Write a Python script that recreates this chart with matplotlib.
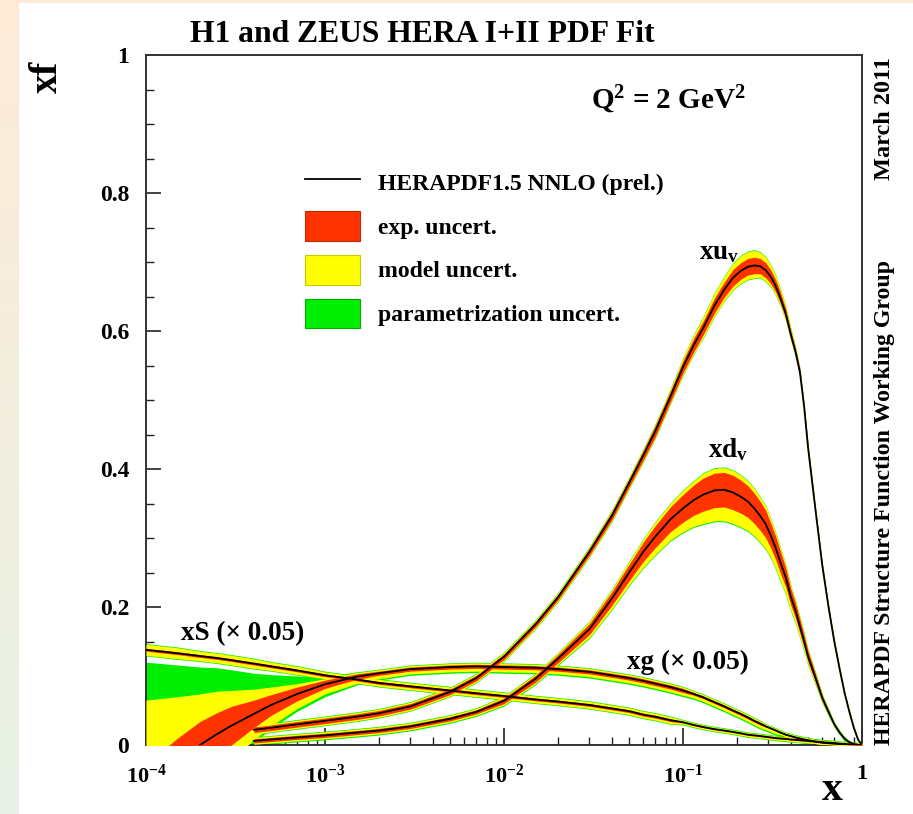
import numpy as np
import matplotlib
matplotlib.use("Agg")
import matplotlib.pyplot as plt
from matplotlib.lines import Line2D
from matplotlib.patches import Patch, Rectangle
from matplotlib.ticker import FixedLocator, FixedFormatter, LogLocator, NullFormatter

plt.rcParams['font.family'] = ['Liberation Serif', 'DejaVu Serif']
plt.rcParams['font.weight'] = 'bold'
plt.rcParams['mathtext.fontset'] = 'custom'
plt.rcParams['mathtext.rm'] = 'Liberation Serif:bold'
plt.rcParams['mathtext.bf'] = 'Liberation Serif:bold'
plt.rcParams['mathtext.it'] = 'Liberation Serif:italic:bold'
plt.rcParams['mathtext.default'] = 'rm'

# ---------------- data ----------------
x_grid = [1e-4, 1.5e-4, 2e-4, 2.5e-4, 3e-4, 4e-4, 5e-4, 7e-4, 1e-3, 1.5e-3, 2e-3, 3e-3,
          5e-3, 7e-3, 1e-2, 1.5e-2, 2e-2, 3e-2, 4e-2, 5e-2, 6e-2, 7e-2, 8.5e-2, 0.1,
          0.115, 0.13, 0.15, 0.17, 0.19, 0.21, 0.23, 0.25, 0.27, 0.29, 0.31, 0.33, 0.35,
          0.375, 0.4, 0.425, 0.45, 0.475, 0.5, 0.55, 0.6, 0.65, 0.7, 0.75, 0.8, 0.85,
          0.9, 0.95, 1.0]
nan = np.nan

# xu_v  (valence curves start at x = 4e-4)
xuv_c = [nan] * 5 + [
    0.022, 0.025, 0.030, 0.035, 0.041, 0.046, 0.056, 0.077, 0.097, 0.128, 0.175, 0.214,
    0.280, 0.332, 0.380, 0.420, 0.455, 0.505, 0.548, 0.580, 0.605, 0.637, 0.660, 0.677,
    0.687, 0.693, 0.695, 0.694, 0.688, 0.678, 0.665, 0.648, 0.625, 0.595, 0.570, 0.540,
    0.490, 0.430, 0.340, 0.260, 0.200, 0.150, 0.110, 0.075, 0.048, 0.025, 0.008, 0.0]
xuv_exp = [nan] * 5 + [0.004] * 12 + [
    0.005, 0.006, 0.006, 0.007, 0.008, 0.008, 0.009, 0.010, 0.010, 0.011, 0.011, 0.012,
    0.012, 0.012, 0.012, 0.011, 0.011, 0.010, 0.009, 0.008, 0.007, 0.006, 0.005, 0.005,
    0.004, 0.004, 0.003, 0.003, 0.002, 0.002, 0.002, 0.001, 0.001, 0.001, 0.0, 0.0]
xuv_mod_up = [nan] * 5 + [0.002] * 17 + [
    0.003, 0.004, 0.005, 0.006, 0.007, 0.008, 0.009, 0.010, 0.010, 0.010, 0.009, 0.008,
    0.007, 0.006, 0.005, 0.004, 0.003, 0.002] + [0.001] * 13
xuv_mod_dn = [nan] * 5 + [0.002] * 17 + [
    0.002, 0.003, 0.003, 0.004, 0.004, 0.005, 0.005, 0.006, 0.006, 0.006, 0.005, 0.005,
    0.004, 0.004, 0.003, 0.003, 0.002, 0.002] + [0.001] * 13
xuv_par_up = [nan] * 5 + [0.001] * 48
xuv_par_dn = [nan] * 5 + [0.001] * 48

# xd_v
xdv_c = [nan] * 5 + [
    0.006, 0.008, 0.011, 0.014, 0.018, 0.021, 0.027, 0.038, 0.048, 0.064, 0.096, 0.125,
    0.168, 0.212, 0.250, 0.280, 0.302, 0.327, 0.343, 0.355, 0.363, 0.369, 0.370, 0.366,
    0.360, 0.353, 0.343, 0.332, 0.320, 0.303, 0.285, 0.265, 0.243, 0.215, 0.195, 0.172,
    0.150, 0.128, 0.097, 0.068, 0.048, 0.030, 0.018, 0.009, 0.004, 0.0015, 0.0003, 0.0]
xdv_exp = [nan] * 5 + [0.003] * 9 + [
    0.004, 0.005, 0.006, 0.008, 0.010, 0.012, 0.014, 0.016, 0.018, 0.020, 0.022, 0.024,
    0.025, 0.025, 0.025, 0.024, 0.023, 0.022, 0.021, 0.020, 0.018, 0.017, 0.016, 0.014,
    0.012, 0.011, 0.010, 0.009, 0.008, 0.006, 0.004, 0.003, 0.002, 0.0015, 0.001, 0.0005,
    0.0, 0.0, 0.0]
xdv_mod_up = [nan] * 5 + [0.002] * 12 + [
    0.003, 0.003, 0.004, 0.004, 0.005, 0.005, 0.006, 0.006, 0.007, 0.007, 0.007, 0.007,
    0.007, 0.007, 0.007, 0.006, 0.006, 0.006, 0.005, 0.005, 0.004, 0.004, 0.003, 0.003,
    0.003, 0.002, 0.002] + [0.001] * 9
xdv_mod_dn = [nan] * 5 + [0.002] * 12 + [
    0.004, 0.005, 0.006, 0.008, 0.010, 0.012, 0.014, 0.016, 0.018, 0.019, 0.020, 0.020,
    0.020, 0.019, 0.018, 0.017, 0.016, 0.014, 0.013, 0.011, 0.010, 0.008, 0.007, 0.006,
    0.005, 0.004, 0.003, 0.002, 0.002] + [0.001] * 7
xdv_par_up = [nan] * 5 + [0.001] * 48
xdv_par_dn = [nan] * 5 + [0.0015] * 48

# xS (x 0.05)
xs_c = [0.138, 0.133, 0.129, 0.126, 0.123, 0.118, 0.114, 0.108, 0.101, 0.095, 0.090, 0.085,
        0.079, 0.075, 0.071, 0.066, 0.063, 0.058, 0.053, 0.049, 0.044, 0.041, 0.036, 0.033,
        0.029, 0.026, 0.023, 0.021, 0.019, 0.017, 0.015, 0.014, 0.013, 0.012, 0.011, 0.010,
        0.0095, 0.009, 0.008, 0.0075, 0.007, 0.0065, 0.006, 0.005, 0.004, 0.0035, 0.003,
        0.002, 0.0015, 0.001, 0.0005, 0.0002, 0.0]
xs_exp = [0.002] * 23 + [0.001] * 30
xs_mod_up = [0.006, 0.006, 0.005, 0.005, 0.005, 0.005, 0.004, 0.004] + [0.003] * 15 + [0.002] * 30
xs_mod_dn = [0.006, 0.006, 0.005, 0.005, 0.005, 0.005, 0.004, 0.004] + [0.003] * 15 + [0.002] * 30
xs_par_up = [0.001] * 53
xs_par_dn = [0.001] * 53

# xg (x 0.05)
xg_c = [-0.070, -0.030, 0.000, 0.016, 0.028, 0.045, 0.058, 0.074, 0.088, 0.099, 0.104, 0.110,
        0.113, 0.114, 0.113, 0.112, 0.110, 0.106, 0.101, 0.097, 0.093, 0.089, 0.084, 0.079,
        0.074, 0.069, 0.062, 0.056, 0.050, 0.045, 0.040, 0.035, 0.031, 0.027, 0.024, 0.021,
        0.018, 0.015, 0.013, 0.011, 0.0095, 0.008, 0.007, 0.005, 0.0035, 0.0025, 0.0018,
        0.0012, 0.0008, 0.0004, 0.0002, 0.0, 0.0]
xg_exp = [0.042, 0.040, 0.034, 0.031, 0.028, 0.020, 0.015, 0.010, 0.006, 0.004] + \
    [0.003] * 14 + [0.002] * 9 + [0.001] * 12 + [0.0] * 8
xg_mod_up = [0.093, 0.060, 0.040, 0.031, 0.023, 0.016, 0.011, 0.005, 0.002] + [0.002] * 44
xg_mod_dn = [0.020] * 5 + [0.018, 0.015, 0.011, 0.008, 0.006, 0.005] + [0.004] * 25 + [0.002] * 17
xg_par_up = [0.055, 0.046, 0.039, 0.034, 0.030, 0.023, 0.018, 0.011, 0.003] + [0.001] * 44
xg_par_dn = [0.004] * 9 + [0.002] * 44

y_ticks = [0, 0.2, 0.4, 0.6, 0.8, 1]
y_ticklabels = ['0', '0.2', '0.4', '0.6', '0.8', '1']
x_ticks = [1e-4, 1e-3, 1e-2, 1e-1, 1]
x_ticklabels = [r'$10^{-4}$', r'$10^{-3}$', r'$10^{-2}$', r'$10^{-1}$', '1']

legend_labels = ['HERAPDF1.5 NNLO (prel.)', 'exp. uncert.', 'model uncert.',
                 'parametrization uncert.']

RED = '#ff3300'
YEL = '#ffff00'
GRN = '#00ee00'

W, H = 913, 814
fig = plt.figure(figsize=(W / 100, H / 100), dpi=100)
fig.patch.set_facecolor('white')

# background gradient strip on the left and top
bg = fig.add_axes([0, 0, 1, 1], zorder=-10)
bg.set_axis_off()
grad = np.linspace(0, 1, 256)[:, None]
c_top = np.array([0.996, 0.922, 0.847])
c_bot = np.array([0.905, 0.945, 0.900])
img = c_top[None, None, :] * (1 - grad[:, :, None]) + c_bot[None, None, :] * grad[:, :, None]
bg.imshow(img, extent=[0, 1, 0, 1], aspect='auto', transform=bg.transAxes)
bg.add_patch(Rectangle((19 / W, 0), 1 - 19 / W, 1 - 3 / H, transform=bg.transAxes,
                       facecolor='white', edgecolor='none'))
bg.set_xlim(0, 1)
bg.set_ylim(0, 1)

ax = fig.add_axes([146 / W, 1 - 745 / H, (862 - 146) / W, (745 - 55) / H])
ax.set_facecolor('white')

xg_arr = np.array(x_grid)


def draw_pdf(c, e, mu, md, pu, pd):
    c = np.array(c, float)
    e = np.array(e, float)
    mu = np.array(mu, float)
    md = np.array(md, float)
    pu = np.array(pu, float)
    pd = np.array(pd, float)
    ok = ~np.isnan(c)
    xx = xg_arr[ok]
    c, e, mu, md, pu, pd = c[ok], e[ok], mu[ok], md[ok], pu[ok], pd[ok]
    ax.fill_between(xx, c - e - md - pd, c + e + mu + pu, color=GRN, lw=0, zorder=2)
    ax.fill_between(xx, c - e - md, c + e + mu, color=YEL, lw=0, zorder=3)
    ax.fill_between(xx, c - e, c + e, color=RED, lw=0, zorder=4)
    ax.plot(xx, c, color='black', lw=1.3, zorder=5, solid_joinstyle='round')


draw_pdf(xg_c, xg_exp, xg_mod_up, xg_mod_dn, xg_par_up, xg_par_dn)
draw_pdf(xs_c, xs_exp, xs_mod_up, xs_mod_dn, xs_par_up, xs_par_dn)
draw_pdf(xdv_c, xdv_exp, xdv_mod_up, xdv_mod_dn, xdv_par_up, xdv_par_dn)
draw_pdf(xuv_c, xuv_exp, xuv_mod_up, xuv_mod_dn, xuv_par_up, xuv_par_dn)

ax.set_xscale('log')
ax.set_xlim(1e-4, 1)
ax.set_ylim(0, 1)

ax.xaxis.set_major_locator(FixedLocator(x_ticks))
ax.xaxis.set_major_formatter(FixedFormatter(x_ticklabels))
ax.xaxis.set_minor_locator(LogLocator(base=10, subs=np.arange(2, 10)))
ax.xaxis.set_minor_formatter(NullFormatter())
ax.yaxis.set_major_locator(FixedLocator(y_ticks))
ax.yaxis.set_major_formatter(FixedFormatter(y_ticklabels))
ax.yaxis.set_minor_locator(FixedLocator(np.arange(0, 1.001, 0.05)))

ax.tick_params(which='both', direction='in', top=False, right=False, colors='#222222',
               labelcolor='black')
ax.tick_params(axis='y', which='major', length=11, width=1.2, pad=12, labelsize=17)
ax.tick_params(axis='y', which='minor', length=6, width=1.0)
ax.tick_params(axis='x', which='major', length=12, width=1.2, pad=14, labelsize=16)
ax.tick_params(axis='x', which='minor', length=6, width=1.0)
for sp in ax.spines.values():
    sp.set_color('#333333')
    sp.set_linewidth(1.4)

# texts
fig.text(422 / W, 1 - 34 / H, 'H1 and ZEUS HERA I+II PDF Fit', ha='center', va='center',
         fontsize=22.8, fontweight='bold')
fig.text(47 / W, 1 - 77 / H, 'xf', ha='center', va='center', rotation=90,
         fontsize=28, fontweight='bold')
fig.text(832 / W, 1 - 790 / H, 'x', ha='center', va='center', fontsize=30, fontweight='bold')
ax.text(0.730, 0.935, r'Q$^{2}$ = 2 GeV$^{2}$', transform=ax.transAxes, ha='center',
        va='center', fontsize=21)
ax.text(0.800, 0.713, r'xu$_{\mathrm{v}}$', transform=ax.transAxes, ha='center', va='center',
        fontsize=19.5)
ax.text(0.813, 0.428, r'xd$_{\mathrm{v}}$', transform=ax.transAxes, ha='center', va='center',
        fontsize=19.5)
ax.text(0.135, 0.162, 'xS (× 0.05)', transform=ax.transAxes, ha='center', va='center',
        fontsize=19.5)
ax.text(0.757, 0.12, 'xg (× 0.05)', transform=ax.transAxes, ha='center', va='center',
        fontsize=19.5)
fig.text(884 / W, 1 - 57 / H, 'March 2011', rotation=90, ha='center', va='top', fontsize=17.5)
fig.text(884 / W, 1 - 745 / H, 'HERAPDF Structure Function Working Group', rotation=90,
         ha='center', va='bottom', fontsize=17.2)

handles = [Line2D([], [], color='black', lw=1.3),
           Patch(facecolor=RED, edgecolor='#c02a00', lw=0.8),
           Patch(facecolor=YEL, edgecolor='#c8c800', lw=0.8),
           Patch(facecolor=GRN, edgecolor='#00b000', lw=0.8)]
ax.legend(handles, legend_labels, loc='upper left', bbox_to_anchor=(0.222, 0.837),
          frameon=False, borderpad=0, borderaxespad=0, fontsize=17, handlelength=2.33,
          handleheight=1.55, labelspacing=0.6, handletextpad=0.76)

fig.savefig('out.png', dpi=100)
